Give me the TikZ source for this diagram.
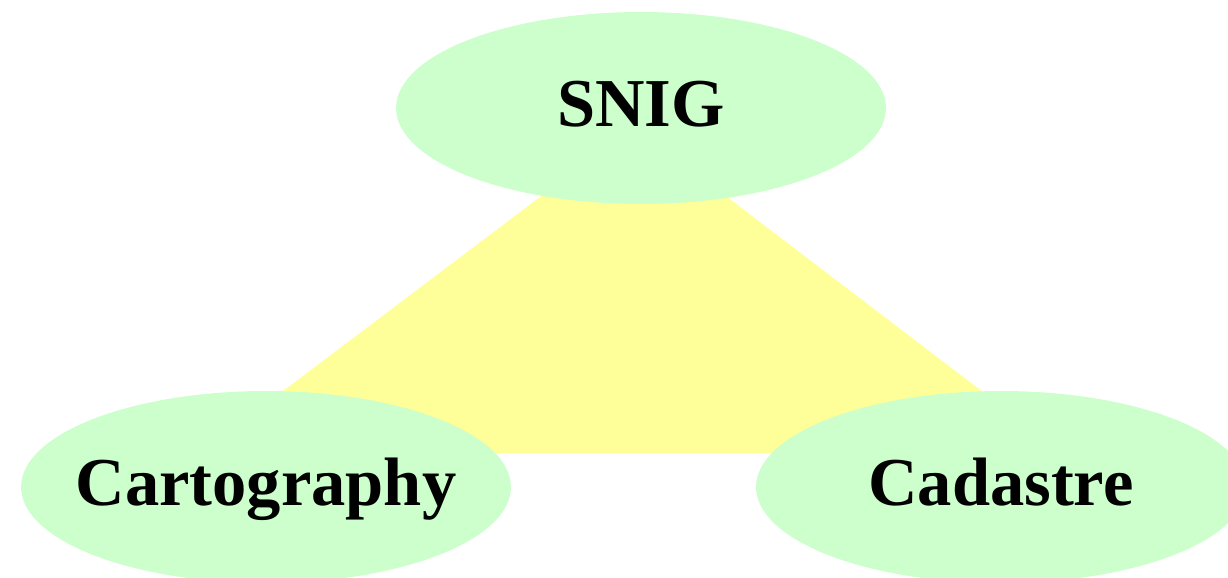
\documentclass[tikz,border=0pt]{standalone}
\usepackage{fontspec}
\setmainfont{Liberation Serif}
\usepackage{tikz}
\usetikzlibrary{shapes.geometric}

\definecolor{nodegreen}{HTML}{CCFFCC}
\definecolor{triyellow}{HTML}{FFFF99}

\tikzset{
    part/.style={ellipse, fill=nodegreen, draw=none,
        inner xsep=-1.2cm, inner ysep=0pt,
        minimum width=9.8cm, minimum height=3.84cm,
        font=\fontsize{39}{42}\selectfont\bfseries,
        text height=26pt, text depth=4.5pt}
}

\begin{document}
\begin{tikzpicture}[x=0.02cm, y=-0.02cm]

    \useasboundingbox (0,0) rectangle (1228,578);
    \clip (0,0) rectangle (1228,578);

    % triangle behind the three parts
    \coordinate (apex) at (634,126);
    \coordinate (bl) at (201,453);
    \coordinate (br) at (1063,453);
    \fill[triyellow] (apex) -- (bl) -- (br) -- cycle;

    \node[part] (snig) at (641,108) {SNIG};
    \node[part] (carto) at (266,487) {Cartography};
    \node[part] (cadastre) at (1001,487) {Cadastre};

\end{tikzpicture}
\end{document}
